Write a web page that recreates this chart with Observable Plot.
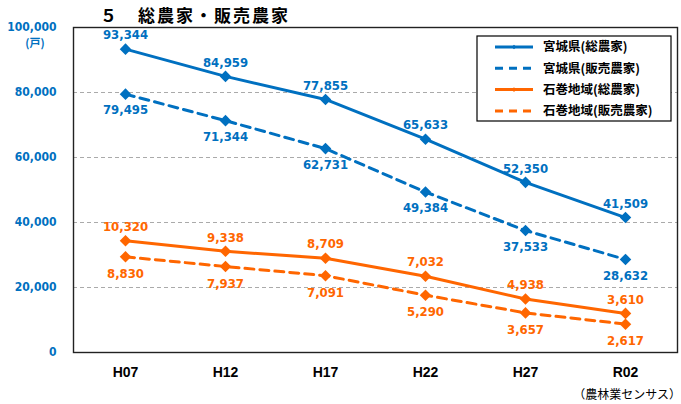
<!DOCTYPE html>
<html><head><meta charset="utf-8">
<script src="https://cdn.jsdelivr.net/npm/d3@7"></script>
<script src="https://cdn.jsdelivr.net/npm/@observablehq/plot@0.6"></script>
<style>
body{margin:0;background:#fff;}
#wrap{width:681px;height:404px;position:relative;overflow:hidden;background:#fff;}
#title{height:20px;box-sizing:border-box;padding:6px 0 0 100px;font-family:"Noto Sans CJK JP";font-weight:bold;font-size:17px;line-height:17px;letter-spacing:2px;white-space:nowrap;color:#000;position:relative;z-index:2;}
#chart{height:364px;}
#caption{height:20px;text-align:right;font-family:"Noto Sans CJK JP";font-size:12px;line-height:20px;color:#000;white-space:nowrap;}
</style></head><body>
<div id="wrap"><div id="title">５　総農家・販売農家</div><div id="chart"></div><div id="caption">（農林業センサス）</div></div>
<script>
// ---- data ----
const years = ["H07","H12","H17","H22","H27","R02"];
const miyagiTotal = [93344,84959,77855,65633,52350,41509];
const miyagiSales = [79495,71344,62731,49384,37533,28632];
const ishinomakiTotal = [10320,9338,8709,7032,4938,3610];
const ishinomakiSales = [8830,7937,7091,5290,3657,2617];
const seriesNames = ["宮城県(総農家)","宮城県(販売農家)","石巻地域(総農家)","石巻地域(販売農家)"];
const yTicks = [0,20000,40000,60000,80000,100000];
const gridTicks = [20000,40000,60000,80000];
const yUnit = "(戸)";
const leftMax = 100000;   // visible left axis maximum
const rightMax = 30000;   // hidden secondary axis maximum (石巻地域)

// ---- styles ----
const BLUE = "#0070C0", ORANGE = "#FF6600";
const NUMFONT = "'DejaVu Sans Condensed', 'DejaVu Sans', sans-serif";
const series = [
  {name: seriesNames[0], values: miyagiTotal,     color: BLUE,   dash: null,  secondary: false, dy: -14},
  {name: seriesNames[1], values: miyagiSales,     color: BLUE,   dash: "9,6", secondary: false, dy: 16},
  {name: seriesNames[2], values: ishinomakiTotal, color: ORANGE, dash: null,  secondary: true,  dy: -14},
  {name: seriesNames[3], values: ishinomakiSales, color: ORANGE, dash: "9,6", secondary: true,  dy: 17}
];
const fmt = d3.format(",");

const marks = [
  Plot.gridY(gridTicks, {stroke: "#aaa", strokeOpacity: 1, strokeDasharray: "4,3"})
];
for (const s of series) {
  const rows = years.map((year, i) => ({
    year, value: s.values[i],
    y: s.secondary ? s.values[i] * leftMax / rightMax : s.values[i]
  }));
  marks.push(Plot.line(rows, {x: "year", y: "y", stroke: s.color, strokeWidth: 3, strokeDasharray: s.dash}));
  marks.push(Plot.dot(rows, {x: "year", y: "y", symbol: "diamond2", r: 5.2, fill: s.color, stroke: "none"}));
  marks.push(Plot.text(rows, {x: "year", y: "y", text: d => fmt(d.value), dy: s.dy, fill: s.color,
    fontSize: 13, fontWeight: "bold", fontFamily: NUMFONT}));
}
marks.push(Plot.frame({stroke: "#222", strokeWidth: 1.4}));
marks.push(Plot.axisY({ticks: yTicks, tickSize: 0, tickPadding: 17, tickFormat: fmt, fill: BLUE,
  fontSize: 12, fontWeight: "bold", fontFamily: NUMFONT, label: null}));
marks.push(Plot.axisX({tickSize: 0, tickPadding: 15, fill: "#000", fontSize: 14, fontWeight: "bold",
  fontFamily: "'Liberation Sans', Arial, sans-serif", label: null}));

const plot = Plot.plot({
  width: 681, height: 364,
  marginTop: 7, marginBottom: 32, marginLeft: 73, marginRight: 4,
  x: {type: "point", domain: years, padding: 0.5},
  y: {domain: [0, leftMax]},
  style: {overflow: "visible", background: "transparent", fontFamily: NUMFONT},
  marks
});
document.getElementById("chart").appendChild(plot);

// unit label under the top tick
const svg = d3.select(plot);
const ys = plot.scale("y");
svg.append("text").attr("x", 35).attr("y", ys.apply(leftMax) + 16).attr("dy", "0.35em")
  .attr("text-anchor", "middle").attr("fill", BLUE).attr("font-weight", "bold")
  .attr("font-size", 11).attr("font-family", "'Noto Sans CJK JP'").text(yUnit);

// legend box
const lg = svg.append("g").attr("transform", "translate(477,16)");
lg.append("rect").attr("width", 194).attr("height", 85).attr("fill", "#fff").attr("stroke", "#000").attr("stroke-width", 1.2);
series.forEach((s, i) => {
  const cy = 11 + i * 21.3;
  lg.append("path").attr("d", `M18,${cy}H56`).attr("fill", "none")
    .attr("stroke", s.color).attr("stroke-width", 3).attr("stroke-dasharray", s.dash ? "8,6" : "none");
  if (!s.dash) lg.append("path").attr("transform", `translate(37,${cy})`).attr("d", d3.symbol(d3.symbolDiamond2, 14)()).attr("fill", s.color);
  lg.append("text").attr("x", 66).attr("y", cy).attr("dy", "0.35em").attr("fill", "#000")
    .attr("text-anchor", "start")
    .attr("font-weight", "bold").attr("font-size", 12.5).attr("font-family", "'Noto Sans CJK JP'").text(s.name);
});
</script>
</body></html>
